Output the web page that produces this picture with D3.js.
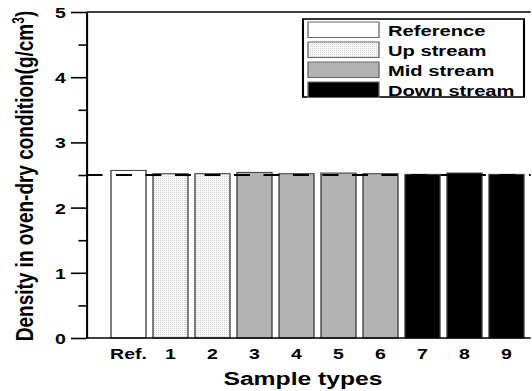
<!DOCTYPE html>
<html>
<head>
<meta charset="utf-8">
<script src="https://cdn.jsdelivr.net/npm/d3@7"></script>
<style>
  body { margin: 0; background: #fff; }
  text { font-family: "Liberation Sans", Arial, sans-serif; font-weight: bold; }
</style>
</head>
<body>
<div id="chart"></div>
<script>
// data
const categories = ["Ref.", "1", "2", "3", "4", "5", "6", "7", "8", "9"];
const groups = ["Reference", "Up stream", "Up stream", "Mid stream", "Mid stream",
                "Mid stream", "Mid stream", "Down stream", "Down stream", "Down stream"];
const density = [2.57, 2.52, 2.52, 2.54, 2.52, 2.53, 2.52, 2.51, 2.53, 2.51];
const legendNames = ["Reference", "Up stream", "Mid stream", "Down stream"];
const yTicks = [0, 1, 2, 3, 4, 5];
const refLine = 2.5;

let width = 532, height = 391;
// the original figure is stretched sideways, so draw in a narrower space and scale it
const SX = 1.3;
let margin = { top: 12, bottom: 53, left: 66.5, right: 1 };
let innerW = width / SX;

let svg = d3.select('#chart').append('svg')
  .attr('width', width)
  .attr('height', height);

// pattern for the dotted "Up stream" bars
let defs = svg.append('defs');
let pat = defs.append('pattern')
  .attr('id', 'dots')
  .attr('patternUnits', 'userSpaceOnUse')
  .attr('width', 2 / SX).attr('height', 2);
pat.append('rect').attr('width', 2 / SX).attr('height', 2).attr('fill', '#f6f6f6');
pat.append('rect').attr('width', 1 / SX).attr('height', 1).attr('fill', '#d2d2d2');

let g = svg.append('g').attr('transform', `scale(${SX},1)`);

const fills = {
  "Reference": "#ffffff",
  "Up stream": "url(#dots)",
  "Mid stream": "#b3b3b3",
  "Down stream": "#000000"
};

let right = innerW - margin.right;
let x = d3.scaleBand()
  .domain(categories)
  .range([107.5 / SX, 527.5 / SX])
  .paddingInner(1 / 6)
  .paddingOuter(1 / 12);

let y = d3.scaleLinear()
  .domain([0, 5])
  .range([height - margin.bottom, margin.top]);

// bars
g.selectAll('rect.bar')
  .data(categories)
  .enter()
  .append('rect')
  .attr('class', 'bar')
  .attr('x', d => x(d))
  .attr('width', x.bandwidth())
  .attr('y', (d, i) => y(density[i]))
  .attr('height', (d, i) => y(0) - y(density[i]))
  .attr('fill', (d, i) => fills[groups[i]])
  .attr('stroke', '#3a3a3a')
  .attr('stroke-width', 1);

// dashed line at 2.5
g.append('line')
  .attr('x1', margin.left).attr('x2', right)
  .attr('y1', y(refLine)).attr('y2', y(refLine))
  .attr('stroke', '#000')
  .attr('stroke-width', 2)
  .attr('stroke-dasharray', `${16 / SX},${13.5 / SX}`);

// frame: bottom and top lines
g.append('line')
  .attr('x1', margin.left).attr('x2', right)
  .attr('y1', y(0)).attr('y2', y(0))
  .attr('stroke', '#000').attr('stroke-width', 1.6);
g.append('line')
  .attr('x1', margin.left).attr('x2', right)
  .attr('y1', y(5)).attr('y2', y(5))
  .attr('stroke', '#000').attr('stroke-width', 1.6);

// y axis with minor ticks
let yMinor = g.append('g')
  .attr('transform', `translate(${margin.left},0)`)
  .call(d3.axisLeft(y).tickValues(d3.range(0.5, 5, 1)).tickSize(8 / SX).tickFormat(''));
yMinor.select('.domain').remove();
yMinor.selectAll('line').attr('stroke-width', 1.6);

let yAxis = g.append('g')
  .attr('transform', `translate(${margin.left},0)`)
  .call(d3.axisLeft(y).tickValues(yTicks).tickFormat(d3.format('d'))
    .tickSize(15.5 / SX).tickPadding(5 / SX).tickSizeOuter(0));
yAxis.select('.domain').attr('stroke-width', 1.6);
yAxis.selectAll('line').attr('stroke-width', 1.6);
yAxis.selectAll('text')
  .attr('font-size', 15)
  .attr('fill', '#000')
  .attr('dy', '0.36em');

// x tick labels (no tick marks)
let xAxis = g.append('g')
  .attr('transform', `translate(0,${y(0)})`)
  .call(d3.axisBottom(x).tickSize(0).tickPadding(10));
xAxis.select('.domain').remove();
xAxis.selectAll('text')
  .attr('font-size', 15)
  .attr('fill', '#000');

// axis titles
g.append('text')
  .attr('x', 303 / SX)
  .attr('y', 385)
  .attr('text-anchor', 'middle')
  .attr('font-size', 19)
  .text('Sample types');

let yt = g.append('text')
  .attr('transform', `translate(${33 / SX},176) rotate(-90)`)
  .attr('text-anchor', 'middle')
  .attr('font-size', 19);
yt.append('tspan').text('Density in oven-dry condition(g/cm');
yt.append('tspan').attr('font-size', 12).attr('dy', -7).text('3');
yt.append('tspan').attr('dy', 7).text(')');

// legend
let legend = g.append('g');
legend.append('rect')
  .attr('x', 303 / SX).attr('y', 19)
  .attr('width', 221 / SX).attr('height', 78)
  .attr('fill', '#fff')
  .attr('stroke', '#000')
  .attr('stroke-width', 1.6);

legendNames.forEach((name, i) => {
  legend.append('rect')
    .attr('x', 308 / SX)
    .attr('y', 22 + i * 20)
    .attr('width', 71 / SX)
    .attr('height', 15.5)
    .attr('fill', fills[name])
    .attr('stroke', '#666')
    .attr('stroke-width', 1);
  legend.append('text')
    .attr('x', 388 / SX)
    .attr('y', 36 + i * 20)
    .attr('font-size', 15.5)
    .text(name);
});
</script>
</body>
</html>
